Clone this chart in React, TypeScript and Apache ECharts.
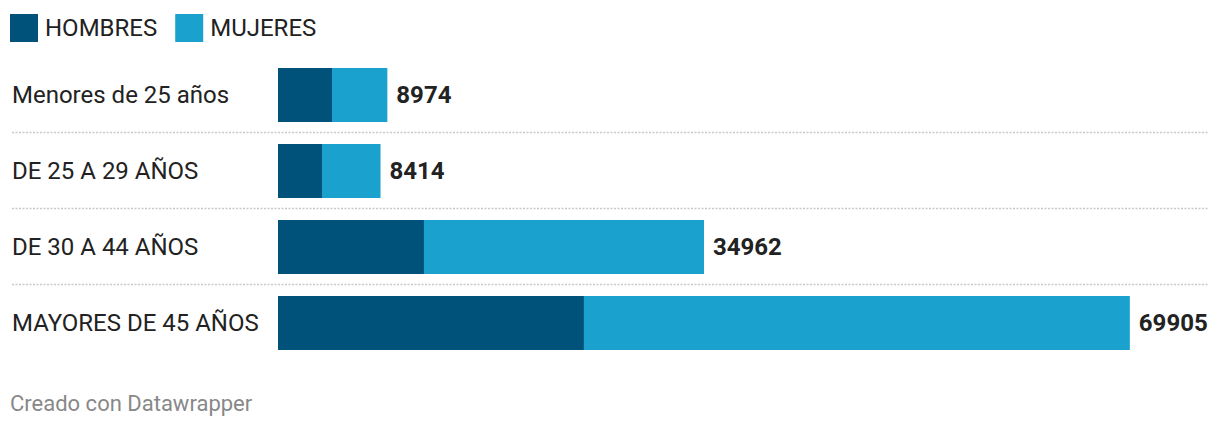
import React, { useEffect, useRef } from "react";
import * as echarts from "echarts";

const categories = ["Menores de 25 años", "DE 25 A 29 AÑOS", "DE 30 A 44 AÑOS", "MAYORES DE 45 AÑOS"];
const hombres = [4431, 3610, 11979, 25107];
const mujeres = [4543, 4804, 22983, 44798];
const totals = [8974, 8414, 34962, 69905];

const DARK = "#01527b";
const LIGHT = "#1aa1ce";
const FONT = "Roboto";

export default function App() {
  const ref = useRef<HTMLDivElement>(null);
  useEffect(() => {
    const chart = echarts.init(ref.current!, null, { renderer: "svg" });
    const top = 57;
    const band = 76;
    const sepLines = [1, 2, 3].map((i) => ({
      type: "line",
      shape: { x1: 12, y1: top + band * i - 0.5, x2: 1208, y2: top + band * i - 0.5 },
      style: { stroke: "#c8c8c8", lineWidth: 1.5, lineDash: [2, 1.5] },
      silent: true,
    }));
    chart.setOption({
      animation: false,
      textStyle: { fontFamily: FONT },
      legend: {
        left: 10,
        top: 14,
        padding: 0,
        itemWidth: 28,
        itemHeight: 28,
        itemGap: 18,
        icon: "rect",
        selectedMode: false,
        textStyle: { fontSize: 24, color: "#222", fontFamily: FONT, padding: [0, 0, 3, 2] },
        data: ["HOMBRES", "MUJERES"],
      },
      grid: { left: 278, right: 89, top: top, height: band * 4, containLabel: false },
      xAxis: {
        type: "value",
        min: 0,
        max: 70000,
        show: false,
      },
      yAxis: {
        type: "category",
        inverse: true,
        data: categories,
        axisLine: { show: false },
        axisTick: { show: false },
        splitLine: { show: false },
        axisLabel: {
          align: "left",
          margin: 266,
          fontSize: 24,
          color: "#222",
          fontFamily: FONT,
        },
      },
      graphic: [
        ...sepLines,
        {
          type: "text",
          x: 10,
          y: 403,
          style: {
            text: "Creado con Datawrapper",
            fontSize: 22,
            fill: "#888",
            fontFamily: FONT,
            verticalAlign: "middle",
          },
        },
      ],
      series: [
        {
          name: "HOMBRES",
          type: "bar",
          stack: "t",
          data: hombres,
          barWidth: 54,
          itemStyle: { color: DARK },
        },
        {
          name: "MUJERES",
          type: "bar",
          stack: "t",
          data: mujeres,
          barWidth: 54,
          itemStyle: { color: LIGHT },
          label: {
            show: true,
            position: "right",
            distance: 9,
            formatter: (p: any) => String(totals[p.dataIndex]),
            fontSize: 24,
            fontWeight: "bold",
            color: "#222",
            fontFamily: FONT,
          },
        },
      ],
    });
    return () => chart.dispose();
  }, []);
  return <div ref={ref} style={{ width: 1220, height: 428, margin: -8 }} />;
}
